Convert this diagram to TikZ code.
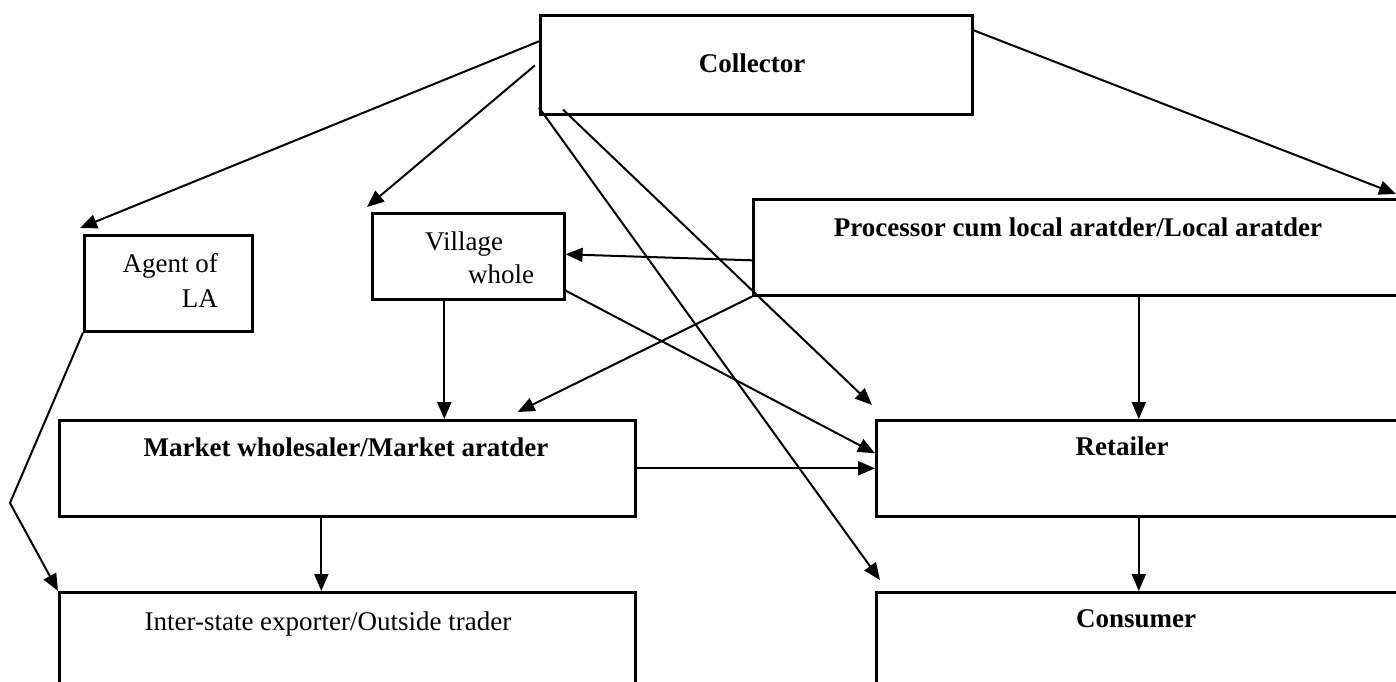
\documentclass[tikz,border=0pt]{standalone}
\usepackage{fontspec}
\setmainfont{Liberation Serif}
\usetikzlibrary{arrows.meta,calc}
\begin{document}
\begin{tikzpicture}[x=1pt,y=-1pt,
 box/.style={draw,line width=2.6pt,rectangle,inner sep=0pt,anchor=north west},
 lbl/.style={inner sep=0pt,font=\fontsize{27}{32}\selectfont},
 blbl/.style={inner sep=0pt,font=\fontsize{27}{32}\selectfont\bfseries},
 arr/.style={line width=2pt,-{Triangle[length=17pt,width=14pt]}},
 ln/.style={line width=2pt}]
\useasboundingbox (0,0) rectangle (1396,681);
\fill[white] (0,0) rectangle (1396,681);
\clip (0,0) rectangle (1396,681);
% boxes
\node[box,minimum width=432pt,minimum height=99pt] (col) at (539,14) {};
\node[box,minimum width=168pt,minimum height=96pt] (agent) at (83,234) {};
\node[box,minimum width=192pt,minimum height=86pt] (vill) at (371,212) {};
\node[box,minimum width=648pt,minimum height=96pt] (proc) at (752,198) {};
\node[box,minimum width=576pt,minimum height=96pt] (market) at (58,419) {};
\node[box,minimum width=525pt,minimum height=96pt] (ret) at (875,419) {};
\node[box,minimum width=576pt,minimum height=120pt] (inter) at (58,591) {};
\node[box,minimum width=525pt,minimum height=120pt] (cons) at (875,591) {};
% texts
\node[blbl,anchor=base] (tcol) at (752,72) {Collector};
\node[blbl,anchor=base] (tproc) at (1078,236) {Processor cum local aratder/Local aratder};
\node[blbl,anchor=base] (tmarket) at (346,456) {Market wholesaler/Market aratder};
\node[blbl,anchor=base] (tret) at (1122,455) {Retailer};
\node[lbl,anchor=base] (tinter) at (328,630) {Inter-state exporter/Outside trader};
\node[blbl,anchor=base] (tcons) at (1136,627) {Consumer};
\node[lbl,anchor=base east] (tag1) at (218,272) {Agent of};
\node[lbl,anchor=base east] (tag2) at (218,307) {LA};
\node[lbl,anchor=base west] (tv1) at (425,250) {Village};
\node[lbl,anchor=base west] (tv2) at (468,283) {whole};
% helper coordinates
\coordinate (v1) at ($(vill.south)+(-24,0)$);
\coordinate (m1) at ($(market.south)+(-26,0)$);
\coordinate (bend) at (10,503);
% connectors
\draw[arr] ($(col.west)+(0,-23.5)$) -- ($(agent.north west)+(-3,-6)$);
\draw[arr] ($(col.west)+(-4,0.5)$) -- ($(vill.north west)+(-4,-5)$);
\draw[arr] ($(col.east)+(0,-34.5)$) -- ($(proc.north west)+(644,-4)$);
\draw[arr] ($(col.south west)+(24,-6)$) -- ($(ret.north west)+(-3,-14)$);
\draw[arr] ($(col.south west)+(0,-8)$) -- ($(cons.north west)+(5,-11)$);
\draw[arr] ($(proc.west)+(0,13)$) -- ($(vill.east)+(0,-2)$);
\draw[arr] (proc.south west) -- ($(market.north east)+(-119,-7)$);
\draw[arr] (proc.south -| ret.north) -- (ret.north);
\draw[arr] (v1) -- (v1 |- market.north);
\draw[arr] ($(vill.south east)+(0,-10)$) -- ($(ret.west)+(0,-15)$);
\draw[arr] (market.east) -- (ret.west);
\draw[arr] (m1) -- (m1 |- inter.north);
\draw[arr] (ret.south) -- (cons.north);
\draw[arr] (agent.south west) -- (bend) -- (inter.north west);
\end{tikzpicture}
\end{document}
